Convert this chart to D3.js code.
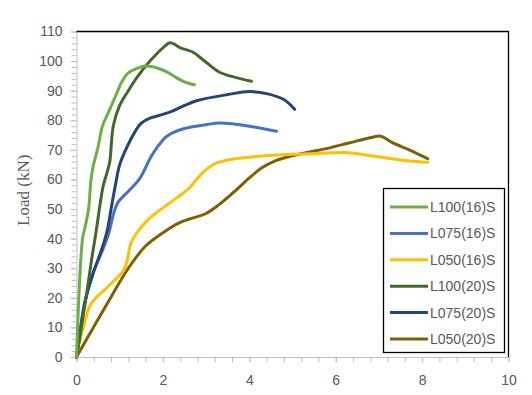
<!DOCTYPE html>
<html>
<head>
<meta charset="utf-8">
<script src="https://cdn.jsdelivr.net/npm/d3@7"></script>
<style>
  body { margin: 0; background: #fff; }
  svg { display: block; }
  .tickLbl { font-family: "Liberation Sans", Arial, sans-serif; font-size: 14px; fill: #595959; }
</style>
</head>
<body>
<svg id="chart" width="532" height="395"></svg>
<script>
// series names and colours (legend order)
const seriesNames = ["L100(16)S", "L075(16)S", "L050(16)S", "L100(20)S", "L075(20)S", "L050(20)S"];
const seriesColors = ["#70AD47", "#4472C4", "#FFC000", "#43682B", "#264478", "#7F6000"];

// displacement (mm) / load (kN)
const l100_16_x = [0, 0.14, 0.2, 0.28, 0.33, 0.38, 0.5, 0.6, 0.75, 0.9, 1.05, 1.2, 1.4, 1.6, 1.9, 2.1, 2.3, 2.5, 2.73];
const l100_16_y = [0, 40, 44, 50, 59, 64, 71, 78, 83, 88, 93, 96, 97.5, 98.3, 97.5, 96.3, 94.5, 93, 92];

const l075_16_x = [0, 0.2, 0.4, 0.6, 0.75, 0.85, 0.95, 1.2, 1.45, 1.7, 1.85, 2.1, 2.5, 3.0, 3.3, 3.6, 4.0, 4.63];
const l075_16_y = [0, 19, 29, 36, 42, 48, 52, 56, 60, 67, 70.5, 74.7, 77.2, 78.5, 79.1, 78.8, 78, 76.3];

const l050_16_x = [0, 0.1, 0.17, 0.3, 0.45, 0.6, 0.85, 1.1, 1.18, 1.25, 1.4, 1.7, 2.2, 2.6, 2.9, 3.2, 3.6, 4.2, 5.0, 5.6, 6.2, 6.7, 7.3, 7.7, 8.13];
const l050_16_y = [0, 7, 10.5, 17, 20, 22, 25.5, 29.5, 33, 38, 42, 47, 52.5, 57, 62, 65.3, 66.8, 67.8, 68.5, 68.8, 69.1, 68.3, 67, 66.2, 65.8];

const l100_20_x = [0, 0.2, 0.35, 0.45, 0.55, 0.62, 0.7, 0.77, 0.85, 1.0, 1.2, 1.4, 1.7, 2.0, 2.17, 2.4, 2.7, 2.9, 3.3, 3.65, 4.05];
const l100_20_y = [0, 18, 33, 42, 52, 58, 62, 66, 78, 85, 90, 94.5, 100, 104.5, 106.2, 104.5, 103, 100.8, 96.3, 94.6, 93.2];

const l075_20_x = [0, 0.1, 0.2, 0.4, 0.55, 0.7, 0.8, 0.9, 1.0, 1.17, 1.35, 1.5, 1.7, 2.0, 2.2, 2.5, 2.8, 3.5, 4.0, 4.4, 4.8, 5.05];
const l075_20_y = [0, 10, 19, 29, 35, 42, 50, 58, 65, 71, 76, 79, 80.7, 82, 83, 85, 86.7, 88.7, 89.7, 89, 87, 83.7];

const l050_20_x = [0, 0.8, 1.2, 1.6, 2.0, 2.4, 2.7, 3.0, 3.3, 3.7, 4.0, 4.3, 4.6, 5.2, 5.8, 6.3, 6.8, 7.05, 7.3, 7.7, 8.13];
const l050_20_y = [0, 20.3, 30, 37.5, 42, 45.5, 47, 48.5, 51.5, 56.5, 60.5, 64, 66.3, 68.7, 70.5, 72.3, 74.1, 74.6, 72.5, 70, 67];

// axis ticks
const xMajor = [0, 2, 4, 6, 8, 10];
const yMajor = [0, 10, 20, 30, 40, 50, 60, 70, 80, 90, 100, 110];
const yAxisTitle = "Load (kN)";

const seriesX = [l100_16_x, l075_16_x, l050_16_x, l100_20_x, l075_20_x, l050_20_x];
const seriesY = [l100_16_y, l075_16_y, l050_16_y, l100_20_y, l075_20_y, l050_20_y];
// draw order: later entries on top
const drawOrder = [5, 2, 1, 4, 3, 0];

const svg = d3.select("#chart");
const plot = { left: 76.5, right: 508.5, top: 31.5, bottom: 357 };

const x = d3.scaleLinear().domain([0, 10]).range([plot.left, plot.right]);
const y = d3.scaleLinear().domain([0, 110]).range([plot.bottom, plot.top]);

const axisColor = "#BFBFBF";

// minor ticks
const xMinor = d3.range(0, 10.001, 0.4);
const yMinor = d3.range(0, 110.001, 2);

svg.append("g")
  .attr("transform", `translate(0,${plot.bottom})`)
  .call(d3.axisBottom(x).tickValues(xMinor).tickSize(5).tickFormat(""))
  .call(g => g.select(".domain").remove())
  .call(g => g.selectAll("line").attr("stroke", axisColor));

svg.append("g")
  .attr("transform", `translate(${plot.left},0)`)
  .call(d3.axisLeft(y).tickValues(yMinor).tickSize(5).tickFormat(""))
  .call(g => g.select(".domain").remove())
  .call(g => g.selectAll("line").attr("stroke", axisColor));

// major axes with labels
const xAxis = svg.append("g")
  .attr("transform", `translate(0,${plot.bottom})`)
  .call(d3.axisBottom(x).tickValues(xMajor).tickSize(5).tickPadding(13).tickSizeOuter(0).tickFormat(d3.format("d")));
xAxis.select(".domain").attr("stroke", axisColor);
xAxis.selectAll("line").attr("stroke", axisColor);
xAxis.selectAll("text").attr("class", "tickLbl").attr("fill", null);

const yAxis = svg.append("g")
  .attr("transform", `translate(${plot.left},0)`)
  .call(d3.axisLeft(y).tickValues(yMajor).tickSize(6).tickPadding(8).tickSizeOuter(0).tickFormat(d3.format("d")));
yAxis.select(".domain").attr("stroke", axisColor);
yAxis.selectAll("line").attr("stroke", axisColor);
yAxis.selectAll("text").attr("class", "tickLbl").attr("fill", null);

// black frame on top and right
svg.append("path")
  .attr("d", `M${plot.left},${plot.top}H${plot.right}V${plot.bottom}`)
  .attr("fill", "none")
  .attr("stroke", "#000")
  .attr("stroke-width", 1.3);

// axis title
svg.append("text")
  .attr("transform", `translate(23,${(plot.top + plot.bottom) / 2 - 4}) rotate(-90)`)
  .attr("text-anchor", "middle")
  .attr("dy", "0.35em")
  .style("font-family", "'Liberation Serif', 'Times New Roman', serif")
  .style("font-size", "17px")
  .style("fill", "#595959")
  .text(yAxisTitle);

// curves
const line = d3.line()
  .x(d => x(d[0]))
  .y(d => y(d[1]))
  .curve(d3.curveCatmullRom.alpha(0.5));

drawOrder.forEach(i => {
  const pts = seriesX[i].map((v, k) => [v, seriesY[i][k]]);
  svg.append("path")
    .datum(pts)
    .attr("fill", "none")
    .attr("stroke", seriesColors[i])
    .attr("stroke-width", 3)
    .attr("stroke-linejoin", "round")
    .attr("stroke-linecap", "round")
    .attr("d", line);
});

// legend
const legend = svg.append("g").attr("transform", "translate(383.5,188.5)");
legend.append("rect")
  .attr("width", 121)
  .attr("height", 164)
  .attr("fill", "#fff")
  .attr("stroke", "#000")
  .attr("stroke-width", 1.3);

seriesNames.forEach((name, i) => {
  const row = legend.append("g").attr("transform", `translate(0,${18.5 + i * 26.4})`);
  row.append("line")
    .attr("x1", 6.5).attr("x2", 44.5)
    .attr("stroke", seriesColors[i])
    .attr("stroke-width", 3);
  row.append("text")
    .attr("class", "tickLbl")
    .attr("x", 46.5)
    .attr("dy", "0.35em")
    .text(name);
});
</script>
</body>
</html>
